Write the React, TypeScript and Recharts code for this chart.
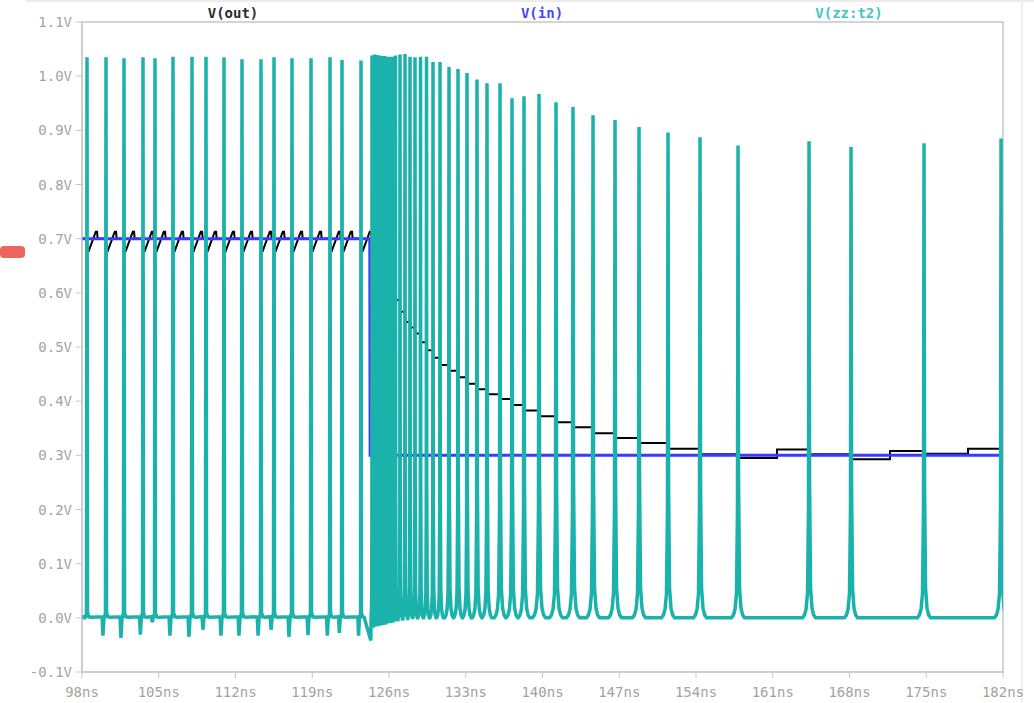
import React from 'react';
import { LineChart, Line, XAxis, YAxis, ReferenceArea } from 'recharts';

// ---- axis ticks ----
const xTicks = [98, 105, 112, 119, 126, 133, 140, 147, 154, 161, 168, 175, 182];
const yTicks = [-0.1, 0, 0.1, 0.2, 0.3, 0.4, 0.5, 0.6, 0.7, 0.8, 0.9, 1.0, 1.1];

// ---- V(in) ----
const vinTime = [98, 124.25, 124.28, 182];
const vinVolt = [0.7, 0.7, 0.3, 0.3];

// ---- V(zz:t2) spikes (ns, peak V, dip before spike V) ----
const zzSpikeTime = [
  98.456, 100.189, 101.831, 103.564, 104.658, 106.3, 108.033, 109.31, 110.951, 112.593,
  114.326, 115.512, 117.154, 118.887, 120.62, 121.714, 123.447,
  124.45, 124.678, 124.906, 125.134, 125.362, 125.59, 125.818, 126.046, 126.274, 126.594,
  127.004, 127.46, 127.916, 128.372, 128.874, 129.421, 130.014, 130.652, 131.473, 132.294,
  133.115, 134.027, 134.939, 136.125, 137.22, 138.314, 139.682, 141.233, 142.783, 144.607,
  146.614, 148.803, 151.448, 154.367, 157.833, 164.309, 168.139, 174.797, 181.821,
];
const zzSpikePeak = [
  1.035, 1.035, 1.033, 1.035, 1.033, 1.036, 1.036, 1.036, 1.035, 1.031,
  1.031, 1.035, 1.033, 1.033, 1.035, 1.03, 1.029,
  1.038, 1.04, 1.039, 1.038, 1.037, 1.037, 1.036, 1.036, 1.036, 1.038,
  1.04, 1.041, 1.036, 1.035, 1.036, 1.036, 1.026, 1.026, 1.017, 1.013,
  1.006, 0.994, 0.987, 0.987, 0.959, 0.963, 0.967, 0.952, 0.943, 0.928,
  0.919, 0.906, 0.896, 0.887, 0.872, 0.88, 0.869, 0.876, 0.885,
];
const zzSpikeDip = [
  0, -0.033, -0.037, -0.031, -0.008, -0.033, -0.035, -0.022, -0.033, -0.033,
  -0.033, -0.022, -0.035, -0.032, -0.033, -0.028, -0.033,
  -0.042, -0.018, -0.016, -0.015, -0.014, -0.013, -0.012, -0.01, -0.01, -0.008,
  -0.006, -0.005, -0.004, -0.002, 0, 0, 0, 0, 0, 0,
  0, 0, 0, 0, 0, 0, 0, 0, 0, 0,
  0, 0, 0, 0, 0, 0, 0, 0, 0,
];

// ---- V(out) ----
// sawtooth before the input step: one ramp per spike
const outSawTime = zzSpikeTime.slice(0, 17);
const outSawBase = 0.7;
const outSawLow = 0.677;
const outSawHigh = 0.713;
// staircase after the input step
const outStepTime = [
  124.28, 124.45, 124.678, 124.906, 125.134, 125.362, 125.59, 125.818, 126.046, 126.274,
  126.594, 127.004, 127.46, 127.916, 128.372, 128.874, 129.421, 130.014, 130.652, 131.473,
  132.294, 133.115, 134.027, 134.939, 136.125, 137.22, 138.314, 139.682, 141.233, 142.783,
  144.607, 146.614, 148.803, 151.448, 154.367, 157.833, 161.39, 164.309, 168.139, 171.696,
  174.797, 178.811, 181.821, 182,
];
const outStepVolt = [
  0.7, 0.69, 0.68, 0.668, 0.656, 0.645, 0.633, 0.62, 0.61, 0.598,
  0.587, 0.565, 0.546, 0.536, 0.525, 0.509, 0.494, 0.48, 0.467, 0.456,
  0.444, 0.432, 0.422, 0.413, 0.404, 0.393, 0.383, 0.372, 0.361, 0.352,
  0.341, 0.332, 0.323, 0.312, 0.302, 0.295, 0.311, 0.302, 0.293, 0.308,
  0.303, 0.312, 0.3, 0.3,
];

// spike shapes (time offset in ns, level); 'P' = peak, 'D' = dip
const PRE_SHAPE: [number, number | string][] = [
  [-0.36, 0.002], [-0.28, 'D'], [-0.18, 0.0], [-0.05, 0.008], [0, 'P'],
  [0.05, 0.01], [0.16, 0.002], [0.36, 0.001],
];
const POST_SHAPE: [number, number | string][] = [
  [-0.6, 'D'], [-0.42, 0.005], [-0.27, 0.016], [-0.14, 0.045], [-0.05, 0.2], [0, 'P'],
  [0.05, 0.25], [0.14, 0.055], [0.27, 0.018], [0.42, 0.005], [0.6, 0],
];

function buildZZ() {
  const pts: { t: number; v: number }[] = [{ t: 98, v: 0.002 }];
  const n = zzSpikeTime.length;
  for (let i = 0; i < n; i++) {
    const t = zzSpikeTime[i];
    const prev = i > 0 ? zzSpikeTime[i - 1] : 97;
    const next = i < n - 1 ? zzSpikeTime[i + 1] : 190;
    const shape = t < 124.3 ? PRE_SHAPE : POST_SHAPE;
    const s = Math.min(1, Math.min(t - prev, next - t) / 1.25);
    for (const [dt, lv] of shape) {
      const v = lv === 'P' ? zzSpikePeak[i] : lv === 'D' ? zzSpikeDip[i] : (lv as number);
      pts.push({ t: t + dt * s, v });
    }
  }
  pts.push({ t: 182.5, v: 0 });
  return pts;
}

function buildOutSaw() {
  const pts: { t: number; v: number }[] = [{ t: 98, v: outSawBase }];
  for (const ts of outSawTime) {
    pts.push({ t: ts, v: outSawBase });
    pts.push({ t: ts + 0.03, v: outSawLow });
    pts.push({ t: ts + 0.15, v: outSawLow });
    pts.push({ t: ts + 0.8, v: outSawHigh });
    pts.push({ t: ts + 0.92, v: outSawHigh });
    pts.push({ t: ts + 0.97, v: outSawBase });
  }
  pts.push({ t: 124.28, v: outSawBase });
  return pts;
}

const zzData = buildZZ();
const outSawData = buildOutSaw();
const outStepData = outStepTime.map((t, i) => ({ t, v: outStepVolt[i] }));
const vinData = vinTime.map((t, i) => ({ t, v: vinVolt[i] }));

const MONO = '"DejaVu Sans Mono", "Liberation Mono", monospace';
const AX = '#c6c6c6';
const LBL = '#a3a3a3';

const YTick = (p: any) => (
  <text x={p.x - 2} y={p.y} dy={5} textAnchor="end" fontFamily={MONO} fontSize={14} fill={LBL}>
    {Number(p.payload.value).toFixed(1) + 'V'}
  </text>
);
const XTick = (p: any) => (
  <text x={p.x} y={p.y} dy={17} textAnchor="middle" fontFamily={MONO} fontSize={14} fill={LBL}>
    {p.payload.value + 'ns'}
  </text>
);

const legendStyle = (left: number, color: string): React.CSSProperties => ({
  position: 'absolute',
  left,
  top: 5,
  transform: 'translateX(-50%)',
  fontFamily: MONO,
  fontSize: 14,
  fontWeight: 'bold',
  lineHeight: '16px',
  color,
  whiteSpace: 'nowrap',
});

export default function App() {
  return (
    <div style={{ position: 'absolute', left: 0, top: 0, width: 1034, height: 703, background: '#fff', overflow: 'hidden' }}>
      <div style={{ position: 'absolute', left: 26, top: 0, width: 1008, height: 2, background: '#ececec' }} />
      <div style={{ position: 'absolute', left: 1021, top: 0, width: 2, height: 703, background: '#efefef' }} />
      <div style={{ position: 'absolute', left: 0, top: 246, width: 25, height: 12, background: '#ea4a40', borderRadius: 4, opacity: 0.85 }} />
      <LineChart width={1034} height={703} margin={{ top: 22, right: 31, bottom: 2, left: 0 }}>
        <XAxis
          type="number"
          dataKey="t"
          domain={[98, 182]}
          ticks={xTicks}
          allowDataOverflow
          height={29}
          tickSize={6}
          stroke={AX}
          tick={XTick}
        />
        <YAxis
          type="number"
          dataKey="v"
          domain={[-0.1, 1.1]}
          ticks={yTicks}
          allowDataOverflow
          width={82}
          tickSize={6}
          stroke={AX}
          tick={YTick}
        />
        <ReferenceArea x1={98} x2={182} y1={-0.1} y2={1.1} fill="none" stroke={AX} strokeWidth={1.5} ifOverflow="visible" />
        <Line data={outSawData} dataKey="v" type="linear" stroke="#000" strokeWidth={2} dot={false} isAnimationActive={false} />
        <Line data={outStepData} dataKey="v" type="stepAfter" stroke="#000" strokeWidth={2} dot={false} isAnimationActive={false} />
        <Line data={vinData} dataKey="v" type="linear" stroke="#3a3aff" strokeWidth={3} dot={false} isAnimationActive={false} />
        <Line data={zzData} dataKey="v" type="linear" stroke="#1cb2ac" strokeWidth={3.5} dot={false} isAnimationActive={false} />
      </LineChart>
      <div style={legendStyle(233, '#2a2a2a')}>V(out)</div>
      <div style={legendStyle(542, '#4646ff')}>V(in)</div>
      <div style={legendStyle(849, '#44c4bd')}>V(zz:t2)</div>
    </div>
  );
}
